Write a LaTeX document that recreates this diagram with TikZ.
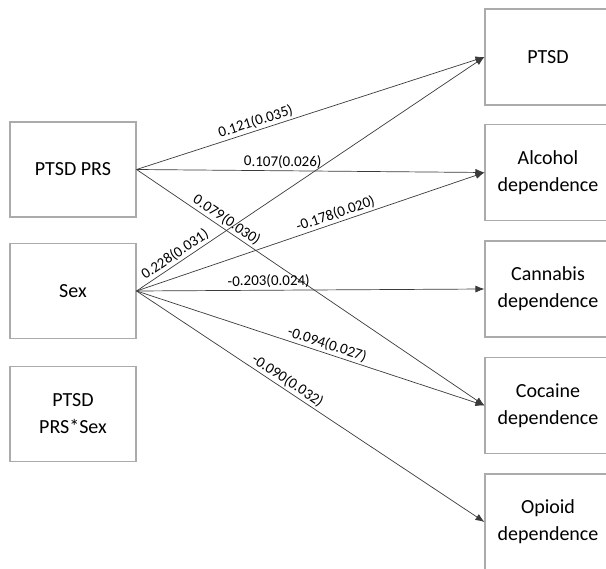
\documentclass[tikz,border=0pt]{standalone}
\usepackage{fontspec}
\setmainfont{Carlito}
\usepackage{tikz}
\usetikzlibrary{arrows.meta}
\definecolor{boxgray}{HTML}{ABABAB}
\definecolor{pathgray}{HTML}{3A3A3A}

\begin{document}
\begin{tikzpicture}[
  x=1pt,
  y=-1pt,
  varbox/.style={draw=boxgray, fill=white, line width=1.1pt, align=center,
    minimum width=126pt, minimum height=95pt, inner sep=2pt,
    font=\fontsize{20}{27}\selectfont},
  effect/.style={-{Latex[length=9pt,width=7pt]}, draw=pathgray, line width=0.7pt},
  coef/.style={font=\fontsize{15}{18}\selectfont, text=black, inner sep=2pt,
    sloped, above}
]
\useasboundingbox (0,0) rectangle (606,569);

% Predictors
\node[varbox] (prs) at (73,169.5) {PTSD PRS};
\node[varbox] (sex) at (73,291) {Sex};
\node[varbox] (prsxsex) at (73,414) {PTSD\\PRS*Sex};

% Outcomes
\node[varbox, minimum height=96pt] (ptsd) at (548,57) {PTSD};
\node[varbox, minimum height=96pt] (alcohol) at (548,172.5) {Alcohol\\dependence};
\node[varbox, minimum height=96pt] (cannabis) at (548,289) {Cannabis\\dependence};
\node[varbox, minimum height=96pt] (cocaine) at (548,405.5) {Cocaine\\dependence};
\node[varbox, minimum height=96pt] (opioid) at (548,522) {Opioid\\dependence};

% Paths from PTSD PRS
\draw[effect] (prs.east) -- (ptsd.west)
      node[coef, pos=0.35] {0.121(0.035)};
\draw[effect] (prs.east) -- (alcohol.west)
      node[coef, pos=0.42] {0.107(0.026)};
\draw[effect] (prs.east) -- (cocaine.west)
      node[coef, pos=0.245] {0.079(0.030)};

% Paths from Sex
\draw[effect] (sex.east) -- (ptsd.west)
      node[coef, pos=0.125] {0.228(0.031)};
\draw[effect] (sex.east) -- (alcohol.west)
      node[coef, pos=0.58] {-0.178(0.020)};
\draw[effect] (sex.east) -- (cannabis.west)
      node[coef, pos=0.38] {-0.203(0.024)};
\draw[effect] (sex.east) -- (cocaine.west)
      node[coef, pos=0.54] {-0.094(0.027)};
\draw[effect] (sex.east) -- (opioid.west)
      node[coef, pos=0.42] {-0.090(0.032)};
\end{tikzpicture}
\end{document}
